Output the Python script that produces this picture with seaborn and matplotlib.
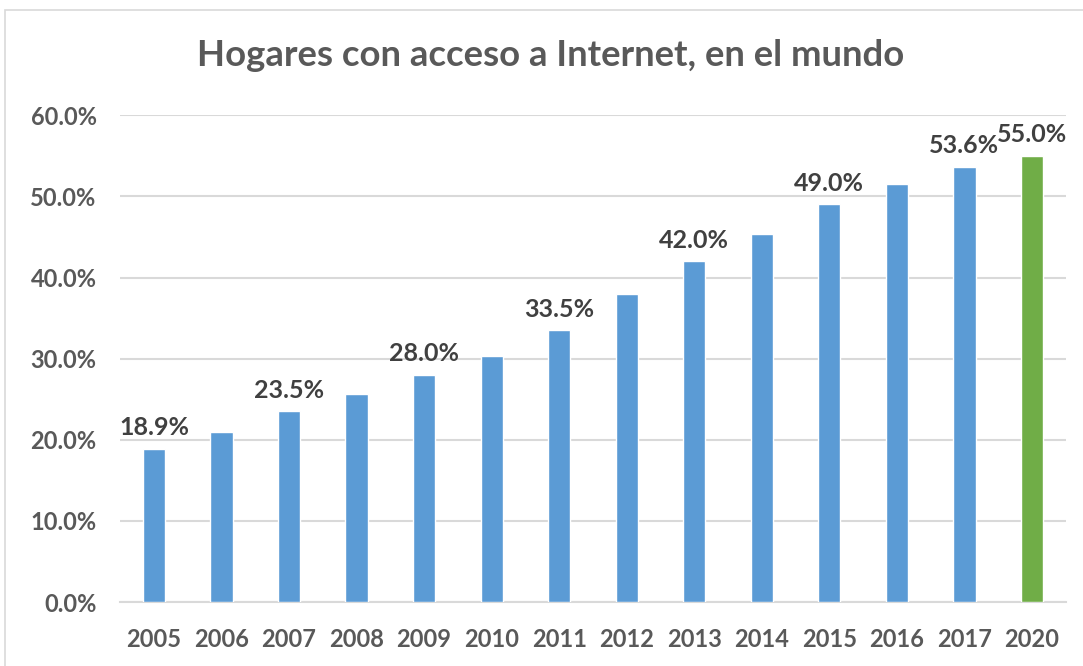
import pandas as pd
import matplotlib.pyplot as plt
import seaborn as sns
from matplotlib.patches import Rectangle
from matplotlib.ticker import PercentFormatter

# Datos
years = ['2005', '2006', '2007', '2008', '2009', '2010', '2011',
         '2012', '2013', '2014', '2015', '2016', '2017', '2020']
share = [18.9, 21.0, 23.5, 25.6, 28.0, 30.3, 33.5,
         38.0, 42.0, 45.3, 49.0, 51.5, 53.6, 55.0]
labeled = ['2005', '2007', '2009', '2011', '2013', '2015', '2017', '2020']

data = pd.DataFrame({'year': years, 'share': share})
data['kind'] = ['proj' if y == '2020' else 'real' for y in years]

sns.set_style('white')
plt.rcParams['font.family'] = ['Lato', 'DejaVu Sans']
plt.rcParams['font.weight'] = 'bold'

fig = plt.figure(figsize=(10.83, 6.66), dpi=100)
ax = fig.add_axes([0.111, 0.096, 0.873, 0.731])

sns.barplot(data=data, x='year', y='share', hue='kind',
            palette={'real': '#5B9BD5', 'proj': '#70AD47'}, saturation=1,
            width=0.33, dodge=False, legend=False, ax=ax, zorder=3)

for i, (y, v) in enumerate(zip(years, share)):
    if y in labeled:
        ax.annotate(f'{v:.1f}%', (i, v), xytext=(0, 7), textcoords='offset points',
                    ha='center', va='bottom', fontsize=18, fontweight='bold',
                    color='#404040')

ax.set_ylim(0, 60)
ax.set_xlim(-0.5, 13.5)
ax.set_yticks(range(0, 61, 10))
ax.yaxis.set_major_formatter(PercentFormatter(decimals=1))
ax.grid(axis='y', color='#D9D9D9', linewidth=1.5, zorder=0)
for s in ['top', 'right', 'left']:
    ax.spines[s].set_visible(False)
ax.spines['bottom'].set_color('#D9D9D9')
ax.spines['bottom'].set_linewidth(1.5)
ax.tick_params(axis='both', length=0, labelsize=17, labelcolor='#595959')
ax.tick_params(axis='y', pad=17)
ax.tick_params(axis='x', pad=19)
ax.set_xlabel('')
ax.set_ylabel('')

fig.text(0.508, 0.917, 'Hogares con acceso a Internet, en el mundo',
         ha='center', va='center', fontsize=26.3, fontweight='bold', color='#595959')

# marco del grafico
fig.patches.append(Rectangle((0.005, -0.01), 1.2, 0.995, transform=fig.transFigure,
                             fill=False, edgecolor='#D9D9D9', linewidth=1.2))

fig.savefig('out.png', dpi=100)
